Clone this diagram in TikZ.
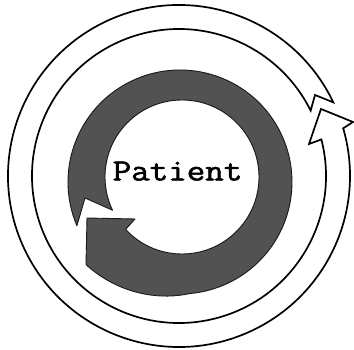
\documentclass[tikz,border=0pt]{standalone}
\usepackage{graphicx}
\usepackage{fontspec}
\newfontfamily\typew[FakeBold=1.6]{Latin Modern Mono}
\usetikzlibrary{calc}
\begin{document}
\begin{tikzpicture}[x=1pt,y=1pt,
  ringline/.style={draw=black, line width=1.7pt, line join=miter, fill=white},
  grayband/.style={fill=black!68, draw=black!90, line width=0.9pt, line join=round},
  ptext/.style={font=\typew\fontsize{31}{31}\selectfont, inner sep=0pt, anchor=base}
]
\fill[white] (0,0) rectangle (354,350);
\useasboundingbox (0,0) rectangle (354,350);
\coordinate (Cw) at (179,174);
\coordinate (Co) at (180,168);
\coordinate (Ci) at (182,173);
% outer white spiral arrow
\draw[ringline] ($(Cw)+(25.5:171)$) coordinate (wtailout)
  arc[start angle=25.5, end angle=376.2, radius=171] coordinate (wjoinout)
  -- (353,228) coordinate (wbarbout)
  -- (321,241) coordinate (wtip)
  -- (309,206) coordinate (wbarbin)
  -- ($(Cw)+(374.4:147)$) coordinate (wjoinin)
  arc[start angle=374.4, end angle=26.4, radius=147] coordinate (wtailin)
  -- (315,255) coordinate (wnotch)
  -- cycle;
% inner grey arrow
\draw[grayband] ($(Co)+(203:112)$) coordinate (gtailout)
  arc[start angle=203, end angle=-85, radius=112]
  -- plot[domain=-85:-138, samples=20, variable=\t]
     ({180+(112+13*(-85-(\t))/53)*cos(\t)}, {168+(112+13*(-85-(\t))/53)*sin(\t)})
  -- (86,86) coordinate (gbarbout)
  -- (87,132) coordinate (gtip)
  -- (135,131) coordinate (gbarbin)
  -- ($(Ci)+(-137.1:77)$) coordinate (gjoinin)
  arc[start angle=-137.1, end angle=205.6, radius=77] coordinate (gtailin)
  -- (85,152) coordinate (gnotch)
  -- cycle;
\node[ptext] (pt) at (177.5,169.5) {\scalebox{1.16}[1]{Patient}};
\end{tikzpicture}
\end{document}
